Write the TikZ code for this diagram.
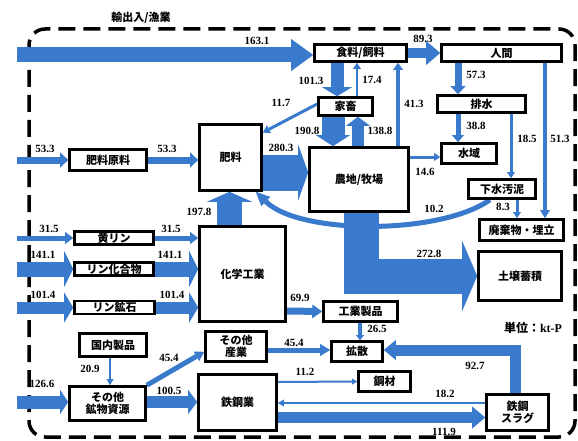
\documentclass[tikz,border=0pt]{standalone}
\usepackage{fontspec}
\usetikzlibrary{arrows.meta}
\newfontfamily\cjk{Noto Sans CJK JP}
\newfontfamily\numf{Liberation Serif}
\definecolor{fblue}{RGB}{58,122,204}
\pgfdeclarelayer{bg}
\pgfsetlayers{bg,main}
\begin{document}
\begin{tikzpicture}[x=1pt,y=-1pt,
 box/.style={draw=black,line width=2.6pt,fill=white,inner sep=0pt,align=center,font=\cjk\bfseries\fontsize{11}{12.5}\selectfont},
 num/.style={font=\numf\bfseries\fontsize{11}{12}\selectfont,inner sep=0pt},
 fl/.style n args={3}{draw=fblue,line width=#1,-{Triangle[length=#2,width=#3,line width=0pt]}},
]
\useasboundingbox (0,0) rectangle (578,441);

% boxes
\node[box,minimum width=92pt,minimum height=17pt] (food) at (360.5,53) {食料/飼料};
\node[box,minimum width=120pt,minimum height=17pt] (human) at (501.5,53) {人間};
\node[box,minimum width=54pt,minimum height=18pt] (livestock) at (345.5,106.5) {家畜};
\node[box,minimum width=88pt,minimum height=17pt] (drain) at (481.5,104) {排水};
\node[box,minimum width=55pt,minimum height=20pt] (water) at (469,153.5) {水域};
\node[box,minimum width=67pt,minimum height=19pt] (sludge) at (502,189) {下水汚泥};
\node[box,minimum width=84pt,minimum height=21pt] (waste) at (521.5,230) {廃棄物・埋立};
\node[box,minimum width=83pt,minimum height=49pt] (soil) at (520,276) {土壌蓄積};
\node[box,minimum width=99pt,minimum height=64pt] (farm) at (359,179.5) {農地/牧場};
\node[box,minimum width=62pt,minimum height=66pt] (fert) at (230.5,157.5) {肥料};
\node[box,minimum width=77pt,minimum height=21pt] (fraw) at (108,160) {肥料原料};
\node[box,minimum width=86pt,minimum height=95pt] (chem) at (242.5,274) {化学工業};
\node[box,minimum width=79pt,minimum height=13pt] (yp) at (114,238) {黄リン};
\node[box,minimum width=79pt,minimum height=13pt] (pc) at (114,269) {リン化合物};
\node[box,minimum width=80pt,minimum height=13pt] (pr) at (114.5,307.5) {リン鉱石};
\node[box,minimum width=67pt,minimum height=23pt] (dom) at (113,345) {国内製品};
\node[box,minimum width=76pt,minimum height=34pt] (omin) at (107.5,403.5) {その他\\鉱物資源};
\node[box,minimum width=61pt,minimum height=30pt] (oind) at (236,346.5) {その他\\産業};
\node[box,minimum width=78pt,minimum height=56pt] (steel) at (237.5,402.5) {鉄鋼業};
\node[box,minimum width=74pt,minimum height=20pt] (ind) at (360.5,311.5) {工業製品};
\node[box,minimum width=51pt,minimum height=20pt] (diff) at (357,351.5) {拡散};
\node[box,minimum width=52pt,minimum height=20pt] (stm) at (384.5,381.5) {鋼材};
\node[box,minimum width=62pt,minimum height=36pt] (slag) at (517.5,412.5) {鉄鋼\\スラグ};

% texts
\node[font=\cjk\bfseries\fontsize{11}{12}\selectfont,inner sep=0pt] (title) at (141,18) {輸出入/漁業};
\node[inner sep=0pt] (unit) at (533,328) {{\cjk\bfseries\fontsize{12}{13}\selectfont 単位：}{\numf\bfseries\fontsize{12}{13}\selectfont kt-P}};

% free ends
\coordinate (i163) at (17,55);
\coordinate (i533) at (17,160);
\coordinate (i315) at (17,238);
\coordinate (i1411) at (17,269);
\coordinate (i1014) at (17,307.5);
\coordinate (i1266) at (17,402);

\begin{pgfonlayer}{bg}
\draw[line width=3.5pt,dash pattern=on 17pt off 8pt,rounded corners=16pt] (29,29) rectangle (575,437);

\draw[fl={15pt}{22pt}{32pt}] (i163) -- (i163 -| food.west);
\draw[fl={10pt}{14pt}{24pt}] (food.east) -- (human.west);
\draw[fl={13pt}{9pt}{30pt}] ([xshift=-23.5pt]food.south) -- ([xshift=-8.5pt]livestock.north);
\draw[fl={2.5pt}{6pt}{8pt}] ([xshift=11.5pt]livestock.north) -- ([xshift=-3.5pt]food.south);
\draw[fl={4pt}{7pt}{10pt}] ([xshift=39pt]farm.north) -- ([xshift=37.5pt]food.south);
\draw[fl={3pt}{7pt}{9pt}] ([yshift=2.5pt]livestock.west) -- ([yshift=25pt]fert.east);
\draw[fl={23pt}{11pt}{34pt}] ([xshift=-12.5pt]livestock.south) -- ([xshift=-26pt]farm.north);
\draw[fl={12pt}{9pt}{24pt}] ([xshift=-1pt]farm.north) -- ([xshift=12.5pt]livestock.south);
\draw[fl={36pt}{10pt}{56pt}] ([yshift=-15pt]fert.east) -- ([yshift=7pt]farm.west);
\draw[fl={3pt}{6pt}{8pt}] ([yshift=22.5pt]farm.east) -- ([yshift=-3.5pt]water.west);
\draw[fl={7pt}{8pt}{15pt}] ([xshift=-43.5pt]human.south) -- ([xshift=-23.5pt]drain.north);
\draw[fl={5pt}{7pt}{12pt}] ([xshift=-23.5pt]drain.south) -- ([xshift=-11pt]water.north);
\draw[fl={3pt}{6pt}{8pt}] ([xshift=29.5pt]drain.south) -- ([xshift=9pt]sludge.north);
\draw[fl={4pt}{8pt}{10pt}] ([xshift=43.5pt]human.south) -- ([xshift=23.5pt]waste.north);
\draw[fl={3pt}{6pt}{8pt}] ([xshift=15pt]sludge.south) -- ([xshift=-4.5pt]waste.north);
\draw[fl={5pt}{14pt}{13pt}] ([xshift=-12pt]sludge.south) .. controls (440,235) and (300,235) .. ([xshift=-7pt]fert.south east);
\draw[fl={35pt}{15pt}{70pt}] ([xshift=2.5pt]farm.south) |- (soil.west);
\draw[fl={25pt}{10pt}{45pt}] ([xshift=-13pt]chem.north) -- ([xshift=-1pt]fert.south);
\draw[fl={7pt}{8pt}{15pt}] (i533) -- (fraw.west);
\draw[fl={7pt}{8pt}{15pt}] (fraw.east) -- ([yshift=-2.5pt]fert.west);
\draw[fl={5pt}{8pt}{12pt}] (i315) -- (yp.west);
\draw[fl={5pt}{8pt}{12pt}] (yp.east) -- ([yshift=36pt]chem.west);
\draw[fl={15pt}{9pt}{36pt}] (i1411) -- (pc.west);
\draw[fl={15pt}{9pt}{36pt}] (pc.east) -- ([yshift=5pt]chem.west);
\draw[fl={12pt}{9pt}{30pt}] (i1014) -- (pr.west);
\draw[fl={12pt}{9pt}{30pt}] (pr.east) -- ([yshift=-33.5pt]chem.west);
\draw[fl={7pt}{10pt}{14pt}] ([yshift=-37pt]chem.east) -- (ind.west);
\draw[fl={3.5pt}{5pt}{8pt}] ([xshift=-0.5pt]ind.south) -- ([xshift=3pt]diff.north);
\draw[fl={5pt}{10pt}{12pt}] ([yshift=-3.5pt]oind.east) -- ([yshift=1.5pt]diff.west);
\draw[fl={11pt}{12pt}{20pt}] ([xshift=-2pt]slag.north) |- ([yshift=1.5pt]diff.east);
\draw[fl={2pt}{5pt}{6pt}] ([yshift=20.5pt]steel.east) -- (stm.west);
\draw[fl={2.5pt}{6pt}{7pt}] ([yshift=9.5pt]slag.west) -- ([yshift=-0.5pt]steel.east);
\draw[fl={11pt}{13pt}{22pt}] ([yshift=-15pt]steel.east) -- ([yshift=-5pt]slag.west);
\draw[fl={12pt}{9pt}{24pt}] ([yshift=1.5pt]omin.east) -- ([yshift=0.5pt]steel.west);
\draw[fl={5pt}{9pt}{11pt}] (omin.north east) -- ([yshift=11pt]oind.south west);
\draw[fl={2.5pt}{6pt}{7pt}] ([xshift=-3pt]dom.south) -- ([xshift=2.5pt]omin.north);
\draw[fl={13pt}{8pt}{24pt}] (i1266) -- ([yshift=1.5pt]omin.west);
\end{pgfonlayer}

% flow labels
\node[num] (l1) at (257,41) {163.1};
\node[num] (l2) at (423,39) {89.3};
\node[num] (l3) at (311,81) {101.3};
\node[num] (l4) at (372,80) {17.4};
\node[num] (l5) at (414,104) {41.3};
\node[num] (l6) at (281,103) {11.7};
\node[num] (l7) at (307,131) {190.8};
\node[num] (l8) at (380,131) {138.8};
\node[num] (l9) at (281,148) {280.3};
\node[num] (l10) at (476,75) {57.3};
\node[num] (l11) at (476,126) {38.8};
\node[num] (l12) at (527,139) {18.5};
\node[num] (l13) at (560,139) {51.3};
\node[num] (l14) at (425,172) {14.6};
\node[num] (l15) at (434,209) {10.2};
\node[num] (l16) at (503,207) {8.3};
\node[num] (l17) at (429,254) {272.8};
\node[num] (l18) at (199,212) {197.8};
\node[num] (l19) at (45,149) {53.3};
\node[num] (l20) at (167,149) {53.3};
\node[num] (l21) at (49,229) {31.5};
\node[num] (l22) at (171,229) {31.5};
\node[num] (l23) at (43,255) {141.1};
\node[num] (l24) at (170,255) {141.1};
\node[num] (l25) at (43,295) {101.4};
\node[num] (l26) at (172,295) {101.4};
\node[num] (l27) at (300,298) {69.9};
\node[num] (l28) at (377,329) {26.5};
\node[num] (l29) at (294,343) {45.4};
\node[num] (l30) at (475,366) {92.7};
\node[num] (l31) at (305,372) {11.2};
\node[num] (l32) at (445,394) {18.2};
\node[num] (l33) at (444,432) {111.9};
\node[num] (l34) at (169,391) {100.5};
\node[num] (l35) at (169,358) {45.4};
\node[num] (l36) at (90,369) {20.9};
\node[num] (l37) at (42,384) {126.6};
\end{tikzpicture}
\end{document}
